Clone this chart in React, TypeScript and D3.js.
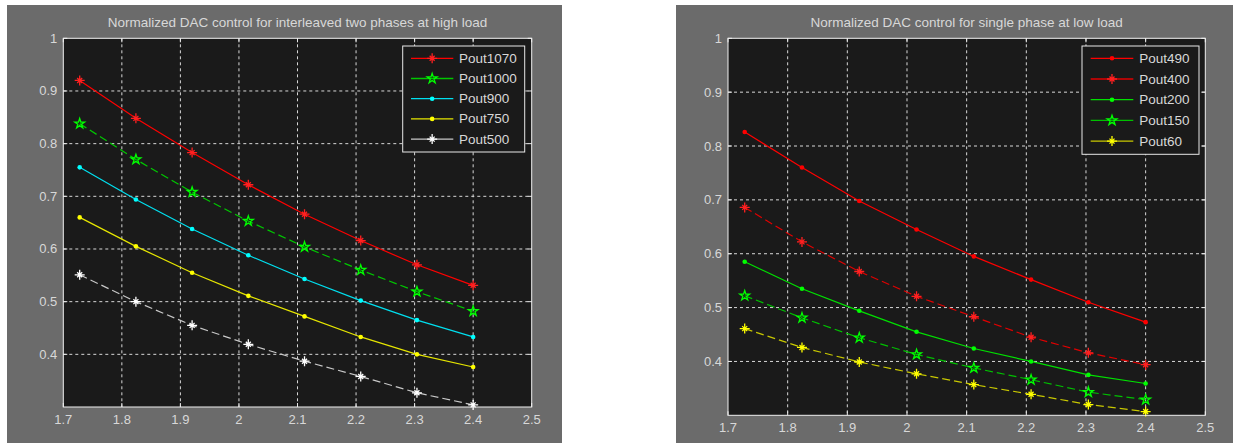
import React from 'react';
import * as d3 from 'd3';

// ---------- data ----------
const xValues = [1.728, 1.824, 1.92, 2.016, 2.112, 2.208, 2.304, 2.4];
const xTicks = [1.7, 1.8, 1.9, 2, 2.1, 2.2, 2.3, 2.4, 2.5];
const yTicks = [0.4, 0.5, 0.6, 0.7, 0.8, 0.9, 1];
const xDomain = [1.7, 2.5];
const yDomain = [0.3, 1];

const titleHigh = 'Normalized DAC control for interleaved two phases at high load';
const titleLow = 'Normalized DAC control for single phase at low load';

const highNames = ['Pout1070', 'Pout1000', 'Pout900', 'Pout750', 'Pout500'];
const pout1070 = [0.92, 0.848, 0.783, 0.722, 0.666, 0.616, 0.57, 0.531];
const pout1000 = [0.838, 0.77, 0.708, 0.653, 0.604, 0.56, 0.519, 0.482];
const pout900 = [0.755, 0.694, 0.638, 0.588, 0.543, 0.502, 0.465, 0.433];
const pout750 = [0.66, 0.605, 0.555, 0.511, 0.472, 0.433, 0.4, 0.376];
const pout500 = [0.551, 0.5, 0.455, 0.419, 0.387, 0.358, 0.327, 0.304];

const lowNames = ['Pout490', 'Pout400', 'Pout200', 'Pout150', 'Pout60'];
const pout490 = [0.826, 0.76, 0.698, 0.645, 0.595, 0.552, 0.51, 0.473];
const pout400 = [0.686, 0.622, 0.567, 0.521, 0.483, 0.445, 0.416, 0.394];
const pout200 = [0.585, 0.535, 0.494, 0.455, 0.424, 0.4, 0.375, 0.359];
const pout150 = [0.522, 0.481, 0.444, 0.413, 0.388, 0.366, 0.343, 0.329];
const pout60 = [0.461, 0.426, 0.399, 0.377, 0.357, 0.339, 0.32, 0.307];

// ---------- styles ----------
type Marker = 'asterisk' | 'star' | 'dot';
interface Style { line: string; mark: string; dash?: string; marker: Marker; }

const highStyles: Style[] = [
  { line: '#ff0000', mark: '#ff2020', marker: 'asterisk' },
  { line: '#00c800', mark: '#00ff00', dash: '8,4', marker: 'star' },
  { line: '#00e0f0', mark: '#00ffff', marker: 'dot' },
  { line: '#e6e600', mark: '#ffff00', marker: 'dot' },
  { line: '#c8c8c8', mark: '#ffffff', dash: '8,4', marker: 'asterisk' },
];
const lowStyles: Style[] = [
  { line: '#ff0000', mark: '#ff0000', marker: 'dot' },
  { line: '#e00000', mark: '#ff2020', dash: '8,4', marker: 'asterisk' },
  { line: '#00e000', mark: '#00ff00', marker: 'dot' },
  { line: '#00c000', mark: '#00ff00', dash: '8,4', marker: 'star' },
  { line: '#c8c800', mark: '#ffff00', dash: '8,4', marker: 'asterisk' },
];

const FONT = '"Liberation Sans", Arial, Helvetica, sans-serif';
const TEXT = '#d8d8d8';
const FIG_BG = '#6b6b6b';
const AX_BG = '#1a1a1a';

const asteriskPath = (r: number) => {
  const d = r * 0.5;
  return `M${-r},0L${r},0M0,${-r}L0,${r}M${-d},${-d}L${d},${d}M${-d},${d}L${d},${-d}`;
};
const starPath = d3.symbol().type(d3.symbolStar).size(30)() as string;

function MarkerShape({ m, color, x, y }: { m: Marker; color: string; x: number; y: number }) {
  if (m === 'dot') return <circle cx={x} cy={y} r={2.3} fill={color} />;
  if (m === 'star')
    return <path d={starPath} transform={`translate(${x},${y})`} fill="none" stroke={color} strokeWidth={1.3} />;
  return <path d={asteriskPath(5)} transform={`translate(${x},${y})`} fill="none" stroke={color} strokeWidth={1.3} />;
}

interface ChartProps {
  frame: { x: number; y: number; w: number; h: number };
  plot: { x0: number; x1: number; y0: number; y1: number };
  legend: { x: number; y: number; w: number; h: number; row0: number; gap: number; l0: number; l1: number; tx: number };
  title: string;
  names: string[];
  series: number[][];
  styles: Style[];
}

function Chart({ frame, plot, legend, title, names, series, styles }: ChartProps) {
  const x = d3.scaleLinear().domain(xDomain).range([plot.x0, plot.x1]);
  const y = d3.scaleLinear().domain(yDomain).range([plot.y1, plot.y0]);
  const line = d3.line<number>().x((_, i) => x(xValues[i])).y((v) => y(v));
  const fmt = d3.format('~g');
  const tl = 4;
  return (
    <g>
      <rect x={frame.x} y={frame.y} width={frame.w} height={frame.h} fill={FIG_BG} />
      <rect x={plot.x0} y={plot.y0} width={plot.x1 - plot.x0} height={plot.y1 - plot.y0} fill={AX_BG} />
      {/* grid */}
      {xTicks.slice(1, -1).map((t) => (
        <line key={'gx' + t} x1={x(t)} x2={x(t)} y1={plot.y0} y2={plot.y1} stroke="#d8d8d8" strokeWidth={1} strokeDasharray="3,3" />
      ))}
      {yTicks.slice(0, -1).map((t) => (
        <line key={'gy' + t} x1={plot.x0} x2={plot.x1} y1={y(t)} y2={y(t)} stroke="#d8d8d8" strokeWidth={1} strokeDasharray="3,3" />
      ))}
      {/* ticks */}
      {xTicks.map((t) => (
        <g key={'tx' + t}>
          <line x1={x(t)} x2={x(t)} y1={plot.y1} y2={plot.y1 - tl} stroke="#e8e8e8" />
          <line x1={x(t)} x2={x(t)} y1={plot.y0} y2={plot.y0 + tl} stroke="#e8e8e8" />
          <text x={x(t)} y={plot.y1 + 12.5} textAnchor="middle" dominantBaseline="central" fill={TEXT} fontSize={13} fontFamily={FONT}>
            {fmt(t)}
          </text>
        </g>
      ))}
      {yTicks.map((t) => (
        <g key={'ty' + t}>
          <line x1={plot.x0} x2={plot.x0 + tl} y1={y(t)} y2={y(t)} stroke="#e8e8e8" />
          <line x1={plot.x1} x2={plot.x1 - tl} y1={y(t)} y2={y(t)} stroke="#e8e8e8" />
          <text x={plot.x0 - 6} y={y(t)} textAnchor="end" dominantBaseline="central" fill={TEXT} fontSize={13} fontFamily={FONT}>
            {fmt(t)}
          </text>
        </g>
      ))}
      {/* series */}
      {series.map((s, i) => (
        <g key={'s' + i}>
          <path d={line(s) as string} fill="none" stroke={styles[i].line} strokeWidth={1.2} strokeDasharray={styles[i].dash} />
          {s.map((v, j) => (
            <MarkerShape key={j} m={styles[i].marker} color={styles[i].mark} x={x(xValues[j])} y={y(v)} />
          ))}
        </g>
      ))}
      <rect x={plot.x0} y={plot.y0} width={plot.x1 - plot.x0} height={plot.y1 - plot.y0} fill="none" stroke="#f0f0f0" strokeWidth={1} />
      {/* title */}
      <text x={(plot.x0 + plot.x1) / 2} y={22.5} textAnchor="middle" dominantBaseline="central" fill={TEXT} fontSize={13.5} fontFamily={FONT}>
        {title}
      </text>
      {/* legend */}
      <rect x={legend.x} y={legend.y} width={legend.w} height={legend.h} fill={AX_BG} stroke="#e8e8e8" strokeWidth={1} />
      {names.map((n, i) => {
        const ly = legend.row0 + i * legend.gap;
        return (
          <g key={'l' + n}>
            <line x1={legend.l0} x2={legend.l1} y1={ly} y2={ly} stroke={styles[i].line} strokeWidth={1.3} />
            <MarkerShape m={styles[i].marker} color={styles[i].mark} x={(legend.l0 + legend.l1) / 2} y={ly} />
            <text x={legend.tx} y={ly} dominantBaseline="central" fill={TEXT} fontSize={13.5} fontFamily={FONT}>
              {n}
            </text>
          </g>
        );
      })}
    </g>
  );
}

export default function App() {
  return (
    <svg width={1233} height={443} style={{ position: 'absolute', left: 0, top: 0, background: '#ffffff' }}>
      <Chart
        frame={{ x: 7, y: 5, w: 555, h: 440 }}
        plot={{ x0: 63.3, x1: 531.7, y0: 38.3, y1: 407 }}
        legend={{ x: 402.7, y: 46, w: 122, h: 106, row0: 58.3, gap: 20.2, l0: 411, l1: 453.3, tx: 459 }}
        title={titleHigh}
        names={highNames}
        series={[pout1070, pout1000, pout900, pout750, pout500]}
        styles={highStyles}
      />
      <Chart
        frame={{ x: 676, y: 5, w: 560, h: 440 }}
        plot={{ x0: 728, x1: 1205.3, y0: 38.3, y1: 415.3 }}
        legend={{ x: 1082, y: 46, w: 117, h: 108.3, row0: 58.3, gap: 20.7, l0: 1090.7, l1: 1133.3, tx: 1139.3 }}
        title={titleLow}
        names={lowNames}
        series={[pout490, pout400, pout200, pout150, pout60]}
        styles={lowStyles}
      />
    </svg>
  );
}
